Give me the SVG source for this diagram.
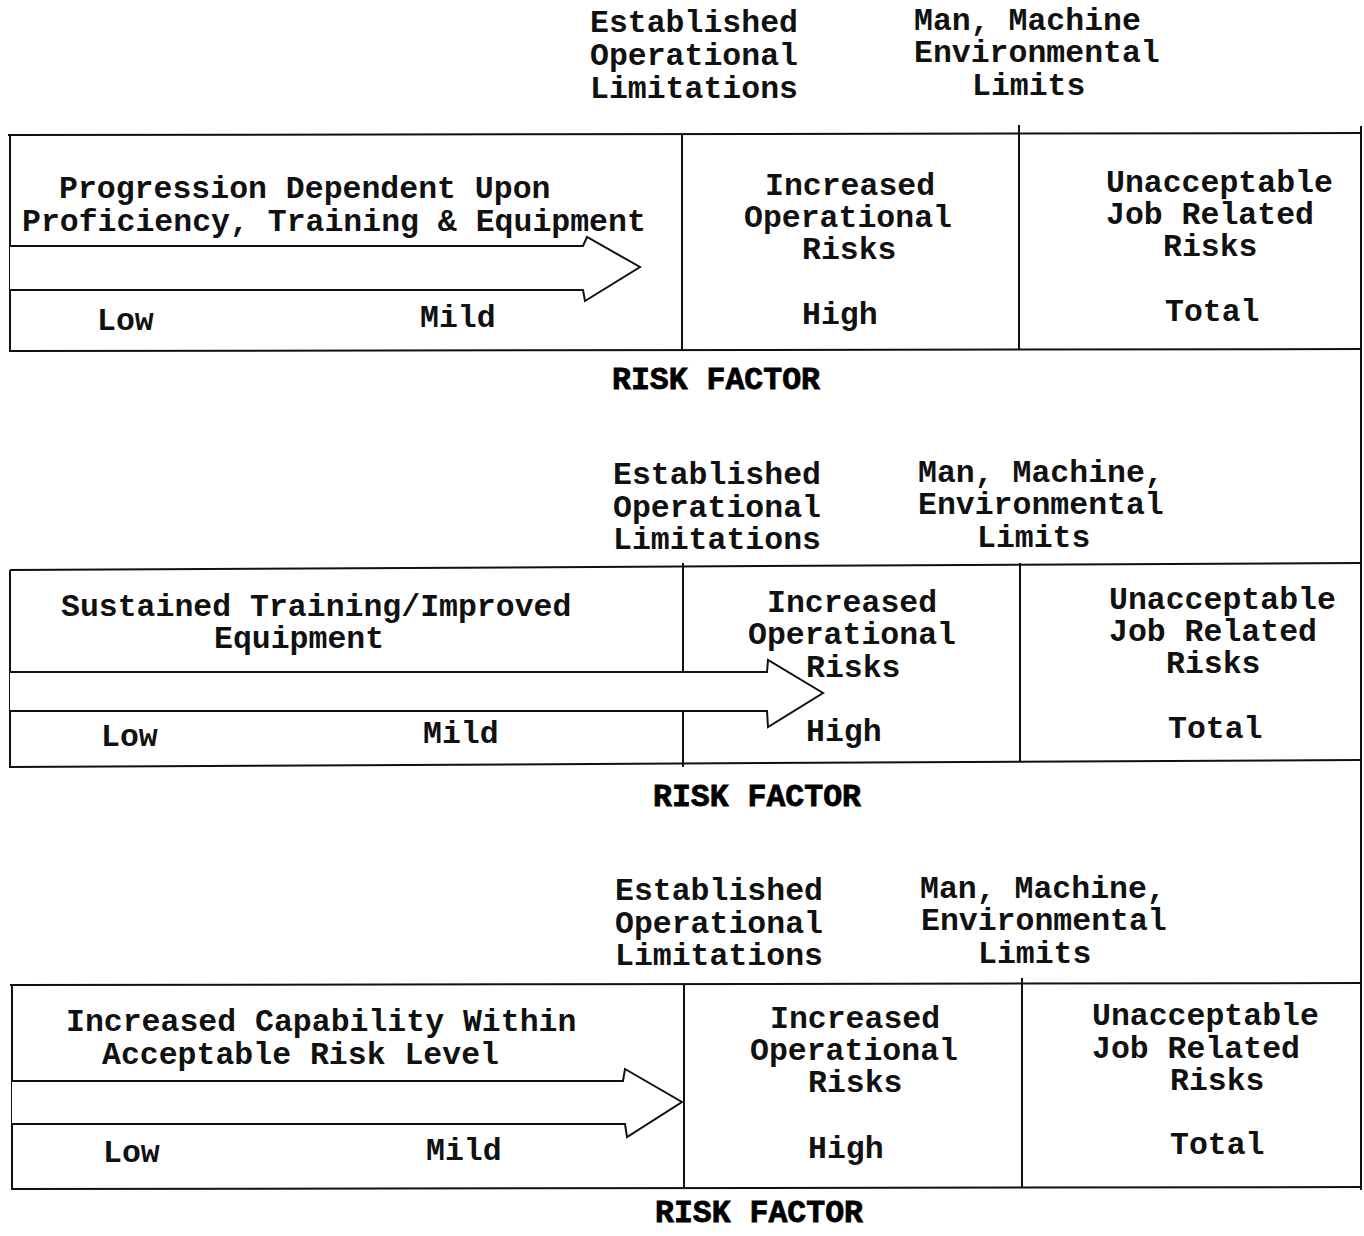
<svg xmlns="http://www.w3.org/2000/svg" width="1364" height="1236" viewBox="0 0 1364 1236">
  <style>
    .t { font-family: "Liberation Mono", "Courier New", monospace; font-size: 31.5px; font-weight: bold; fill: #111; }
    .rf { font-family: "Liberation Mono", "Courier New", monospace; font-size: 31.5px; font-weight: bold; fill: #000; stroke: #000; stroke-width: 0.8; }
    .ln { stroke: #111; stroke-width: 2; fill: none; }
    .arrow { stroke: #111; stroke-width: 2; fill: #fff; stroke-linejoin: miter; }
  </style>
  <rect x="0" y="0" width="1364" height="1236" fill="#fff"/>

  <!-- shared right edge running down all three panels -->
  <line class="ln" x1="1361" y1="126" x2="1361" y2="1190"/>

  <!-- ===== Panel 1 ===== -->
  <g id="panel1">
    <g id="p1-limits">
      <text class="t" x="590" y="32">Established</text>
      <text class="t" x="590" y="65">Operational</text>
      <text class="t" x="590" y="98">Limitations</text>
      <text class="t" x="914" y="30">Man, Machine</text>
      <text class="t" x="914" y="62">Environmental</text>
      <text class="t" x="972" y="95">Limits</text>
    </g>
    <g id="p1-frame">
      <line class="ln" x1="8" y1="135" x2="1361" y2="133"/>
      <line class="ln" x1="10" y1="135" x2="10" y2="352"/>
      <line class="ln" x1="10" y1="351" x2="1361" y2="349"/>
      <line class="ln" x1="682" y1="135" x2="682" y2="351"/>
      <line class="ln" x1="1019" y1="125" x2="1019" y2="349"/>
    </g>
    <g id="p1-low-mild">
      <text class="t" x="59" y="198">Progression Dependent Upon</text>
      <text class="t" x="22" y="231">Proficiency, Training &amp; Equipment</text>
      <text class="t" x="97" y="330">Low</text>
      <text class="t" x="420" y="327">Mild</text>
    </g>
    <g id="p1-high">
      <text class="t" x="765" y="195">Increased</text>
      <text class="t" x="744" y="227">Operational</text>
      <text class="t" x="802" y="259">Risks</text>
      <text class="t" x="802" y="324">High</text>
    </g>
    <g id="p1-total">
      <text class="t" x="1106" y="192">Unacceptable</text>
      <text class="t" x="1106" y="224">Job Related</text>
      <text class="t" x="1163" y="256">Risks</text>
      <text class="t" x="1165" y="321">Total</text>
    </g>
    <text class="rf" x="612" y="389">RISK FACTOR</text>
  </g>

  <!-- ===== Panel 2 ===== -->
  <g id="panel2">
    <g id="p2-limits">
      <text class="t" x="613" y="484">Established</text>
      <text class="t" x="613" y="517">Operational</text>
      <text class="t" x="613" y="549">Limitations</text>
      <text class="t" x="918" y="482">Man, Machine,</text>
      <text class="t" x="918" y="514">Environmental</text>
      <text class="t" x="977" y="547">Limits</text>
    </g>
    <g id="p2-frame">
      <line class="ln" x1="10" y1="570" x2="1361" y2="563"/>
      <line class="ln" x1="10" y1="570" x2="10" y2="768"/>
      <line class="ln" x1="10" y1="767" x2="1361" y2="760"/>
      <line class="ln" x1="683" y1="563" x2="683" y2="767"/>
      <line class="ln" x1="1020" y1="563" x2="1020" y2="761"/>
    </g>
    <g id="p2-low-mild">
      <text class="t" x="61" y="616">Sustained Training/Improved</text>
      <text class="t" x="214" y="648">Equipment</text>
      <text class="t" x="101" y="746">Low</text>
      <text class="t" x="423" y="743">Mild</text>
    </g>
    <g id="p2-high">
      <text class="t" x="767" y="612">Increased</text>
      <text class="t" x="748" y="644">Operational</text>
      <text class="t" x="806" y="677">Risks</text>
      <text class="t" x="806" y="741">High</text>
    </g>
    <g id="p2-total">
      <text class="t" x="1109" y="609">Unacceptable</text>
      <text class="t" x="1109" y="641">Job Related</text>
      <text class="t" x="1166" y="673">Risks</text>
      <text class="t" x="1168" y="738">Total</text>
    </g>
    <text class="rf" x="653" y="806">RISK FACTOR</text>
  </g>

  <!-- ===== Panel 3 ===== -->
  <g id="panel3">
    <g id="p3-limits">
      <text class="t" x="615" y="900">Established</text>
      <text class="t" x="615" y="933">Operational</text>
      <text class="t" x="615" y="965">Limitations</text>
      <text class="t" x="920" y="898">Man, Machine,</text>
      <text class="t" x="921" y="930">Environmental</text>
      <text class="t" x="978" y="963">Limits</text>
    </g>
    <g id="p3-frame">
      <line class="ln" x1="10" y1="985" x2="1362" y2="983"/>
      <line class="ln" x1="12" y1="985" x2="12" y2="1190"/>
      <line class="ln" x1="12" y1="1189" x2="1362" y2="1187"/>
      <line class="ln" x1="684" y1="984" x2="684" y2="1189"/>
      <line class="ln" x1="1022" y1="978" x2="1022" y2="1187"/>
    </g>
    <g id="p3-low-mild">
      <text class="t" x="66" y="1031">Increased Capability Within</text>
      <text class="t" x="102" y="1064">Acceptable Risk Level</text>
      <text class="t" x="103" y="1162">Low</text>
      <text class="t" x="426" y="1160">Mild</text>
    </g>
    <g id="p3-high">
      <text class="t" x="770" y="1028">Increased</text>
      <text class="t" x="750" y="1060">Operational</text>
      <text class="t" x="808" y="1092">Risks</text>
      <text class="t" x="808" y="1158">High</text>
    </g>
    <g id="p3-total">
      <text class="t" x="1092" y="1025">Unacceptable</text>
      <text class="t" x="1092" y="1058">Job Related</text>
      <text class="t" x="1170" y="1090">Risks</text>
      <text class="t" x="1170" y="1154">Total</text>
    </g>
    <text class="rf" x="655" y="1222">RISK FACTOR</text>
  </g>

  <!-- progression arrows -->
  <g id="connectors">
    <path class="arrow" d="M10,246 L583,246 L587,237 L640,267 L585,301 L583,290 L10,290"/>
    <path class="arrow" d="M10,672 L767,672 L768,660 L823,693 L768,727 L767,711 L10,711"/>
    <path class="arrow" d="M12,1081 L623,1081 L625,1069 L682,1102 L627,1137 L625,1124 L12,1124"/>
  </g>
</svg>
